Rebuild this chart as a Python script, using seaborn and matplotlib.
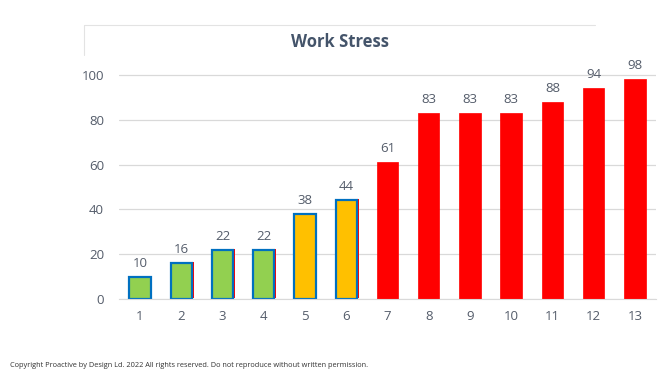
import matplotlib
matplotlib.use("Agg")
import matplotlib.pyplot as plt
import matplotlib.patheffects as pe
from matplotlib.lines import Line2D
import pandas as pd
import seaborn as sns

# Werte
weeks = ["1", "2", "3", "4", "5", "6", "7", "8", "9", "10", "11", "12", "13"]
stress = [10, 16, 22, 22, 38, 44, 61, 83, 83, 83, 88, 94, 98]
bar_colors = ["#92D050"] * 4 + ["#FFC000"] * 2 + ["#FF0000"] * 7
edge_colors = ["#0070C0"] * 6 + ["#FF0000"] * 7

df = pd.DataFrame({"week": weeks, "stress": stress})

sns.set_style("white")
plt.rcParams["font.family"] = ["Open Sans", "DejaVu Sans"]
text_col = "#545C6A"

fig = plt.figure(figsize=(6.64, 3.78), dpi=100)
ax = fig.add_axes([0.1798, 0.209, 0.8075, 0.652])

sns.barplot(data=df, x="week", y="stress", hue="week", palette=bar_colors,
            legend=False, width=0.52, saturation=1, ax=ax)

# Balken nach x-Position sortieren
bars = sorted([p for p in ax.patches if p.get_height() > 0], key=lambda p: p.get_x())

# Rahmenfarben + roter Schatten bei Balken 2-6
for i, bar in enumerate(bars):
    bar.set_edgecolor(edge_colors[i])
    bar.set_linewidth(1.6 if i < 6 else 0.5)
    if 1 <= i <= 5:
        bar.set_path_effects([pe.SimplePatchShadow(offset=(1.2, 0.8), shadow_rgbFace="#FF0000", alpha=1),
                              pe.Normal()])

for c in ax.containers:
    ax.bar_label(c, fmt="%d", padding=5, fontsize=9.5, color=text_col)

ax.set_ylim(0, 110)
ax.set_xlim(-0.5, 12.5)
ax.set_yticks([0, 20, 40, 60, 80, 100])
ax.yaxis.grid(True, color="#D9D9D9", linewidth=0.9)
ax.set_axisbelow(True)
for s in ["top", "right", "left"]:
    ax.spines[s].set_visible(False)
ax.spines["bottom"].set_color("#D9D9D9")
ax.tick_params(axis="y", length=0, pad=11, labelsize=9.5, labelcolor=text_col)
ax.tick_params(axis="x", length=0, pad=8, labelsize=9.5, labelcolor=text_col)
ax.set_xlabel("")
ax.set_ylabel("")

fig.text(0.512, 0.888, "Work Stress", ha="center", va="center", fontsize=12,
         fontweight="bold", color="#44546A")

# Reste des Diagrammrahmens oben links
fig.add_artist(Line2D([0.1265, 0.896], [0.934, 0.934], color="#E3E3E3", linewidth=0.8))
fig.add_artist(Line2D([0.1265, 0.1265], [0.934, 0.855], color="#E3E3E3", linewidth=0.8))

fig.text(0.015, 0.032, "Copyright Proactive by Design Ld. 2022 All rights reserved. Do not reproduce without written permission.",
         fontsize=5.3, color="#333333", ha="left", va="center")

fig.savefig("out.png", dpi=100)
